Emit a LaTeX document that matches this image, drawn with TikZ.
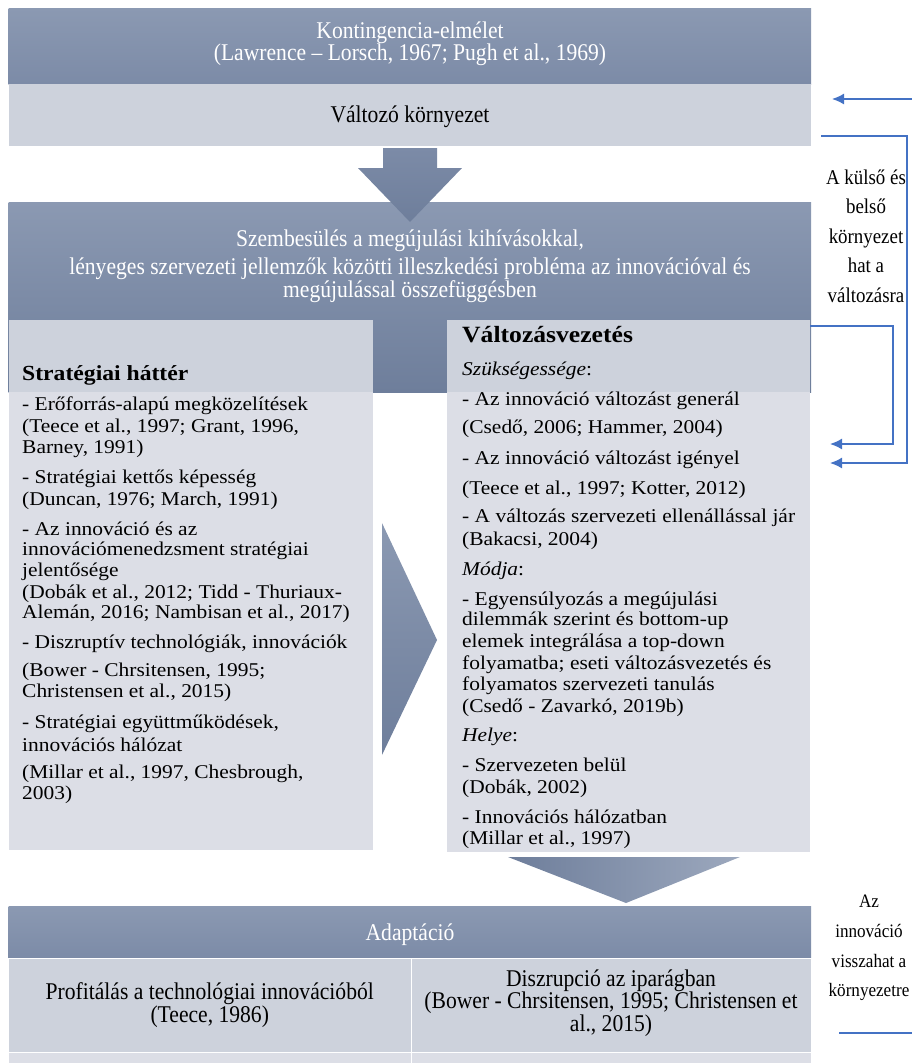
\documentclass[tikz,border=0pt]{standalone}
\usepackage{fontspec}
\setmainfont{Liberation Serif}
\newfontfamily\bodyf[FakeStretch=1.1]{Liberation Serif}
\newfontfamily\headf[FakeStretch=0.9]{Liberation Serif}
\usetikzlibrary{arrows.meta}
\definecolor{darkA}{HTML}{8B99B2}
\definecolor{darkB}{HTML}{7C8BA7}
\definecolor{darkC}{HTML}{6E7E9B}
\definecolor{lightrow}{HTML}{CDD2DC}
\definecolor{bodybg}{HTML}{DCDEE6}
\definecolor{bluel}{HTML}{4472C4}
\tikzset{
  panel/.style={anchor=north west, inner sep=0pt, outer sep=0pt, draw=none},
  cell/.style={anchor=north west, inner sep=0pt, outer sep=0pt, draw=white, line width=0.8pt},
  headtxt/.style={font=\headf\fontsize{24}{22}\selectfont, align=center, inner sep=0pt},
  celltxt/.style={font=\headf\fontsize{24}{19.5}\selectfont, align=center, inner sep=0pt},
  bodytxt/.style={font=\bodyf\fontsize{19.5}{21}\selectfont, anchor=base west, inner sep=0pt},
  sidetxt/.style={font=\headf\fontsize{21}{29.5}\selectfont, align=center, inner sep=0pt},
  sidetxtb/.style={font=\headf\fontsize{19}{29.7}\selectfont, align=center, inner sep=0pt},
  fb/.style={draw=bluel, line width=1.5pt, -{Latex[length=12pt,width=11pt]}},
  fbline/.style={draw=bluel, line width=1.5pt},
}
\begin{document}
\begin{tikzpicture}[x=1pt,y=-1pt]
\useasboundingbox (0,0) rectangle (912,1063);

% top boxes
\node[panel, minimum width=802.5pt, minimum height=76pt, top color=darkA, bottom color=darkB] (top) at (8.5,8) {};
\node[panel, minimum width=802.5pt, minimum height=62pt, fill=lightrow] (env) at (8.5,84) {};
\node[headtxt, text=white] (topT) at (410,44) {Kontingencia-elmélet\\(Lawrence – Lorsch, 1967; Pugh et al., 1969)};
\node[headtxt] (envT) at (410,117) {Változó környezet};

% confrontation box
\node[panel, minimum width=802.5pt, minimum height=190pt, top color=darkA, bottom color=darkC] (conf) at (8.5,202) {};
\shade[top color=darkB, bottom color=darkC] (383,148) -- (437,148) -- (437,168) -- (462,168) -- (410,222) -- (358,168) -- (383,168) -- cycle;
\node[headtxt, text=white] (confT) at (410,266) {Szembesülés a megújulási kihívásokkal,\\[6pt]lényeges szervezeti jellemzők közötti illeszkedési probléma az innovációval és\\megújulással összefüggésben};

% left and right boxes
\node[panel, minimum width=364pt, minimum height=530pt, fill=bodybg] (strat) at (8.5,320) {};
\node[panel, minimum width=364pt, minimum height=72pt, fill=lightrow] (stratH) at (8.5,320) {};
\node[panel, minimum width=363pt, minimum height=532pt, fill=bodybg] (chg) at (447,320) {};
\node[panel, minimum width=363pt, minimum height=72pt, fill=lightrow] (chgH) at (447,320) {};

% middle arrow
\shade[top color=darkA, bottom color=darkC] (382,523) -- (437,640) -- (382,755) -- cycle;

\foreach \ty/\tx [count=\i] in {
380/{\fontsize{21.5}{21}\selectfont\bfseries Stratégiai háttér},
410.7/{- Erőforrás-alapú megközelítések},
432.3/{(Teece et al., 1997; Grant, 1996,},
453.3/{Barney, 1991)},
483.3/{- Stratégiai kettős képesség},
505/{(Duncan, 1976; March, 1991)},
535/{- Az innováció és az},
555.5/{innovációmenedzsment stratégiai},
576.7/{jelentősége},
598.3/{(Dobák et al., 2012; Tidd - Thuriaux-},
618.3/{Alemán, 2016; Nambisan et al., 2017)},
648.3/{- Diszruptív technológiák, innovációk},
676/{(Bower - Chrsitensen, 1995;},
697.3/{Christensen et al., 2015)},
728.3/{- Stratégiai együttműködések,},
751.7/{innovációs hálózat},
778.3/{(Millar et al., 1997, Chesbrough,},
799.3/{2003)}}
  \node[bodytxt] (s\i) at (22,\ty) {\tx};

\foreach \ty/\tx [count=\i] in {
342.7/{\fontsize{23.3}{21}\selectfont\bfseries Változásvezetés},
375/{\textit{Szükségessége}:},
405/{- Az innováció változást generál},
433.3/{(Csedő, 2006; Hammer, 2004)},
464/{- Az innováció változást igényel},
494/{(Teece et al., 1997; Kotter, 2012)},
522.7/{- A változás szervezeti ellenállással jár},
545/{(Bakacsi, 2004)},
575/{\textit{Módja}:},
605/{- Egyensúlyozás a megújulási},
625/{dilemmák szerint és bottom-up},
647.7/{elemek integrálása a top-down},
669.3/{folyamatba; eseti változásvezetés és},
690.7/{folyamatos szervezeti tanulás},
712.7/{(Csedő - Zavarkó, 2019b)},
741.7/{\textit{Helye}:},
771.7/{- Szervezeten belül},
793.3/{(Dobák, 2002)},
823.3/{- Innovációs hálózatban},
844.3/{(Millar et al., 1997)}}
  \node[bodytxt] (c\i) at (462,\ty) {\tx};

% bottom arrow
\shade[left color=darkC, right color=darkA!85!white] (508,857) -- (740,857) -- (626,903) -- cycle;

% adaptation
\node[panel, minimum width=802.5pt, minimum height=52pt, top color=darkA, bottom color=darkB] (adapt) at (8.5,906) {};
\node[headtxt, text=white] (adaptT) at (410,935) {Adaptáció};
\node[cell, minimum width=402.5pt, minimum height=94pt, fill=lightrow] (prof) at (8.5,958) {};
\node[cell, minimum width=400pt, minimum height=94pt, fill=lightrow] (disr) at (411,958) {};
\node[cell, minimum width=402.5pt, minimum height=14pt, fill=bodybg] (prof2) at (8.5,1052) {};
\node[cell, minimum width=400pt, minimum height=14pt, fill=bodybg] (disr2) at (411,1052) {};
\node[celltxt] (profT) at (prof.center) {Profitálás a technológiai innovációból\\(Teece, 1986)};
\node[celltxt] (disrT) at ([yshift=2pt]disr.center) {Diszrupció az iparágban\\(Bower - Chrsitensen, 1995; Christensen et\\al., 2015)};

% side labels
\node[sidetxt] (lab1) at (866,236) {A külső és\\belső\\környezet\\hat a\\változásra};
\node[sidetxtb] (lab2) at (869,948) {Az\\innováció\\visszahat a\\környezetre};

% feedback connectors
\coordinate (inR) at (912,99);
\coordinate (inE) at (832,99);
\draw[fb] (inR) -- (inE);
\coordinate (o1s) at (821,136);
\coordinate (o1c) at (907,463);
\coordinate (o1e) at (830,463);
\draw[fb] (o1s) -| (o1c) -- (o1e);
\coordinate (o2c) at (893,444);
\coordinate (o2e) at (830,444);
\draw[fb] ([yshift=-6pt]chg.north east) -| (o2c) -- (o2e);
\coordinate (o3s) at (839,1033);
\coordinate (o3e) at (912,1033);
\draw[fbline] (o3s) -- (o3e);
\end{tikzpicture}
\end{document}
